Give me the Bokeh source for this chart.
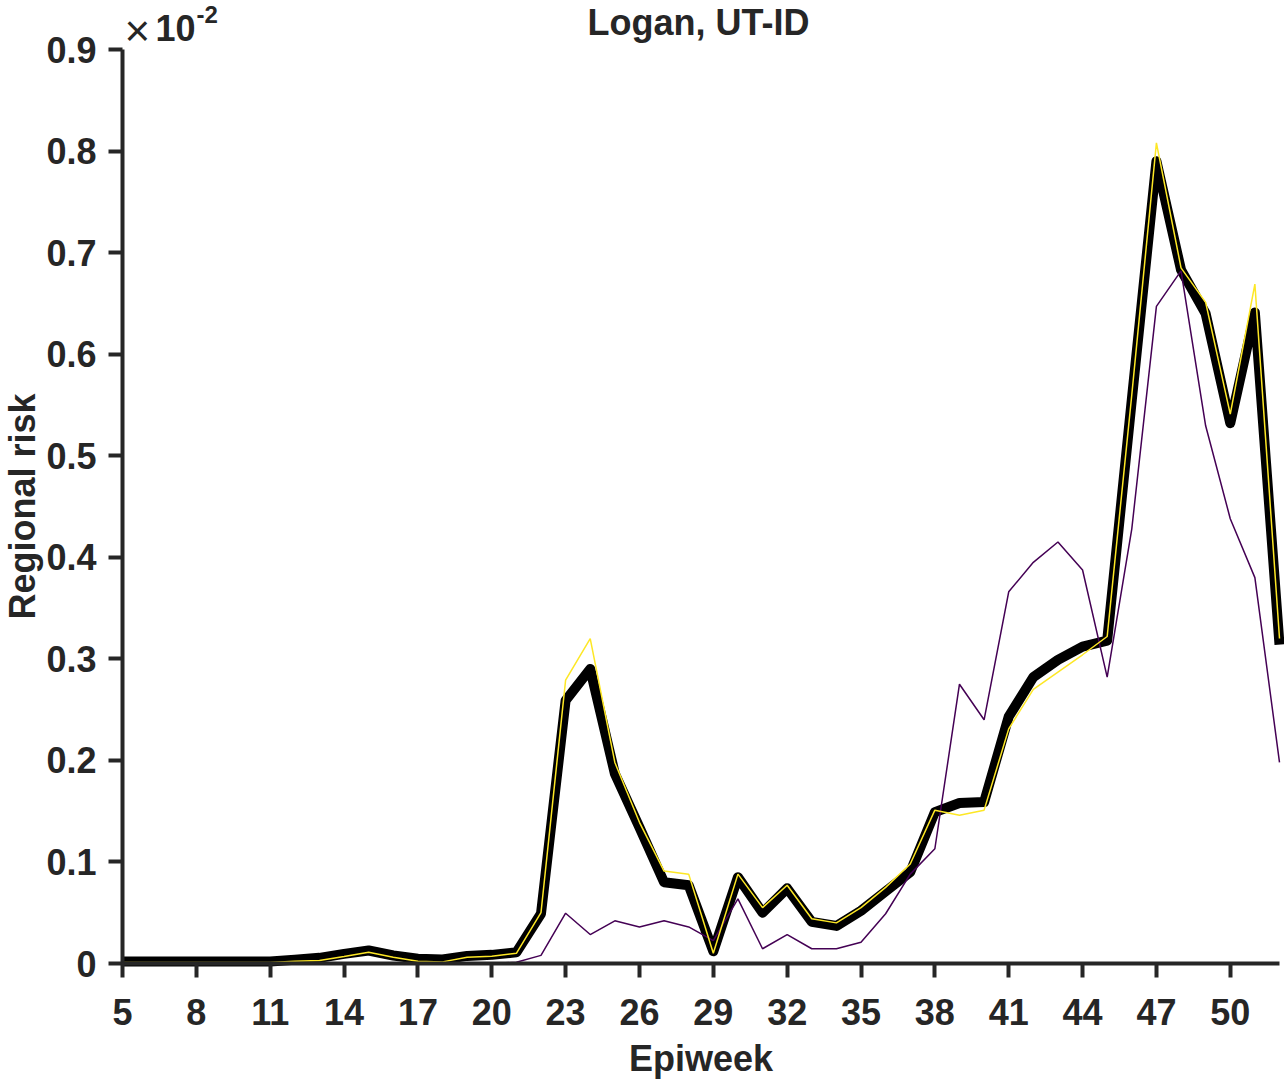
from bokeh.plotting import figure
from bokeh.models import FixedTicker, CustomJSTickFormatter, Label, Range1d
from bokeh.embed import file_html
from bokeh.resources import INLINE

# Epiweeks
weeks = [5, 6, 7, 8, 9, 10, 11, 12, 13, 14, 15, 16, 17, 18, 19, 20, 21, 22, 23, 24,
         25, 26, 27, 28, 29, 30, 31, 32, 33, 34, 35, 36, 37, 38, 39, 40, 41, 42, 43, 44,
         45, 46, 47, 48, 49, 50, 51, 52]

# Regional risk (x 10^-2)
risk_mean = [0.002, 0.002, 0.002, 0.002, 0.002, 0.002, 0.002, 0.0036, 0.0056, 0.0095,
             0.0128, 0.0079, 0.0046, 0.0039, 0.0075, 0.0085, 0.011, 0.049, 0.259, 0.290,
             0.187, 0.134, 0.080, 0.077, 0.012, 0.085, 0.050, 0.074, 0.041, 0.037,
             0.052, 0.071, 0.090, 0.149, 0.158, 0.159, 0.243, 0.282, 0.299, 0.312,
             0.318, 0.555, 0.790, 0.683, 0.640, 0.532, 0.641, 0.314]

risk_high = [0.001, 0.001, 0.001, 0.001, 0.001, 0.001, 0.001, 0.0023, 0.003, 0.0069,
             0.011, 0.0062, 0.0023, 0.0016, 0.0062, 0.0072, 0.010, 0.050, 0.279, 0.320,
             0.198, 0.139, 0.091, 0.088, 0.010, 0.088, 0.055, 0.077, 0.044, 0.040,
             0.055, 0.075, 0.098, 0.151, 0.146, 0.151, 0.231, 0.270, 0.287, 0.304,
             0.322, 0.560, 0.808, 0.685, 0.651, 0.541, 0.669, 0.320]

risk_low = [0.0, 0.0, 0.0, 0.0, 0.0, 0.0, 0.0, 0.0, 0.0, 0.0,
            0.0, 0.0, 0.0, 0.0, 0.0, 0.0, 0.0013, 0.008, 0.0495, 0.0285,
            0.042, 0.036, 0.042, 0.036, 0.0226, 0.0636, 0.0145, 0.0285, 0.0145, 0.0145,
            0.021, 0.049, 0.088, 0.113, 0.275, 0.240, 0.366, 0.395, 0.415, 0.3875,
            0.282, 0.428, 0.647, 0.682, 0.5295, 0.438, 0.380, 0.198]

x_ticks = [5, 8, 11, 14, 17, 20, 23, 26, 29, 32, 35, 38, 41, 44, 47, 50]
y_ticks = [0, 0.1, 0.2, 0.3, 0.4, 0.5, 0.6, 0.7, 0.8, 0.9]

title_text = "Logan, UT-ID"
x_label = "Epiweek"
y_label = "Regional risk"

FONT = "Liberation Sans"
TXT = "#262626"

# Canvas geometry: the frame covers the whole canvas; the axes are pinned at
# x=5 and y=0 so that the title, exponent and axis labels all lie inside it.
W, H = 1284, 1080
AX_L, AX_R, AX_T, AX_B = 122, 1279, 49, 963   # pixel box of the axes
XMIN, XMAX, YMIN, YMAX = 5, 52, 0, 0.9
kx = (AX_R - AX_L) / (XMAX - XMIN)
ky = (AX_B - AX_T) / (YMAX - YMIN)
x_range = Range1d(XMIN - AX_L / kx, XMAX + (W - AX_R) / kx)
y_range = Range1d(YMIN - (H - AX_B) / ky, YMAX + AX_T / ky)

p = figure(width=W, height=H, output_backend="svg", toolbar_location=None,
           x_range=x_range, y_range=y_range,
           min_border=0, min_border_left=0, min_border_right=0,
           min_border_top=0, min_border_bottom=0)
p.outline_line_color = None
p.xgrid.visible = False
p.ygrid.visible = False
p.background_fill_color = "white"
p.border_fill_color = "white"

for ax in (p.xaxis[0], p.yaxis[0]):
    ax.axis_line_width = 4
    ax.axis_line_color = TXT
    ax.major_tick_line_width = 4
    ax.major_tick_line_color = TXT
    ax.major_tick_in = 0
    ax.major_tick_out = 14
    ax.minor_tick_line_color = None
    ax.major_label_text_font = FONT
    ax.major_label_text_font_style = "bold"
    ax.major_label_text_font_size = "36px"
    ax.major_label_text_color = TXT
    ax.axis_label_text_font = FONT
    ax.axis_label_text_font_style = "bold"
    ax.axis_label_text_font_size = "36px"
    ax.axis_label_text_color = TXT

p.xaxis[0].fixed_location = YMIN
p.yaxis[0].fixed_location = XMIN
p.xaxis[0].bounds = (XMIN, XMAX)
p.yaxis[0].bounds = (YMIN, YMAX)
p.xaxis[0].ticker = FixedTicker(ticks=x_ticks)
p.yaxis[0].ticker = FixedTicker(ticks=y_ticks)
p.yaxis[0].formatter = CustomJSTickFormatter(code="return tick == 0 ? '0' : tick.toFixed(1);")
p.xaxis[0].major_label_standoff = 21
p.yaxis[0].major_label_standoff = 12
p.xaxis[0].axis_label = x_label
p.yaxis[0].axis_label = y_label
p.xaxis[0].axis_label_standoff = 10
p.yaxis[0].axis_label_standoff = 0

p.line(weeks, risk_mean, line_color="black", line_width=10, line_join="round")
p.line(weeks, risk_low, line_color="#440154", line_width=1.5)
p.line(weeks, risk_high, line_color="#FDE725", line_width=1.5)

def lab(text, x, y, xo, yo, size, style="bold", align="left"):
    p.add_layout(Label(x=x, y=y, x_offset=xo, y_offset=yo, text=text, text_font=FONT,
                       text_font_size=size, text_font_style=style, text_color=TXT,
                       text_align=align, text_baseline="middle"))

lab(title_text, 28.4, YMAX, 0, 27, "36px", align="center")
lab("\u00d7", XMIN, YMAX, 2, 19, "44px", style="normal")
lab("10", XMIN, YMAX, 33, 22, "36px")
lab("-2", XMIN, YMAX, 74, 35, "24px")

open("out.html", "w").write(file_html(p, INLINE))
